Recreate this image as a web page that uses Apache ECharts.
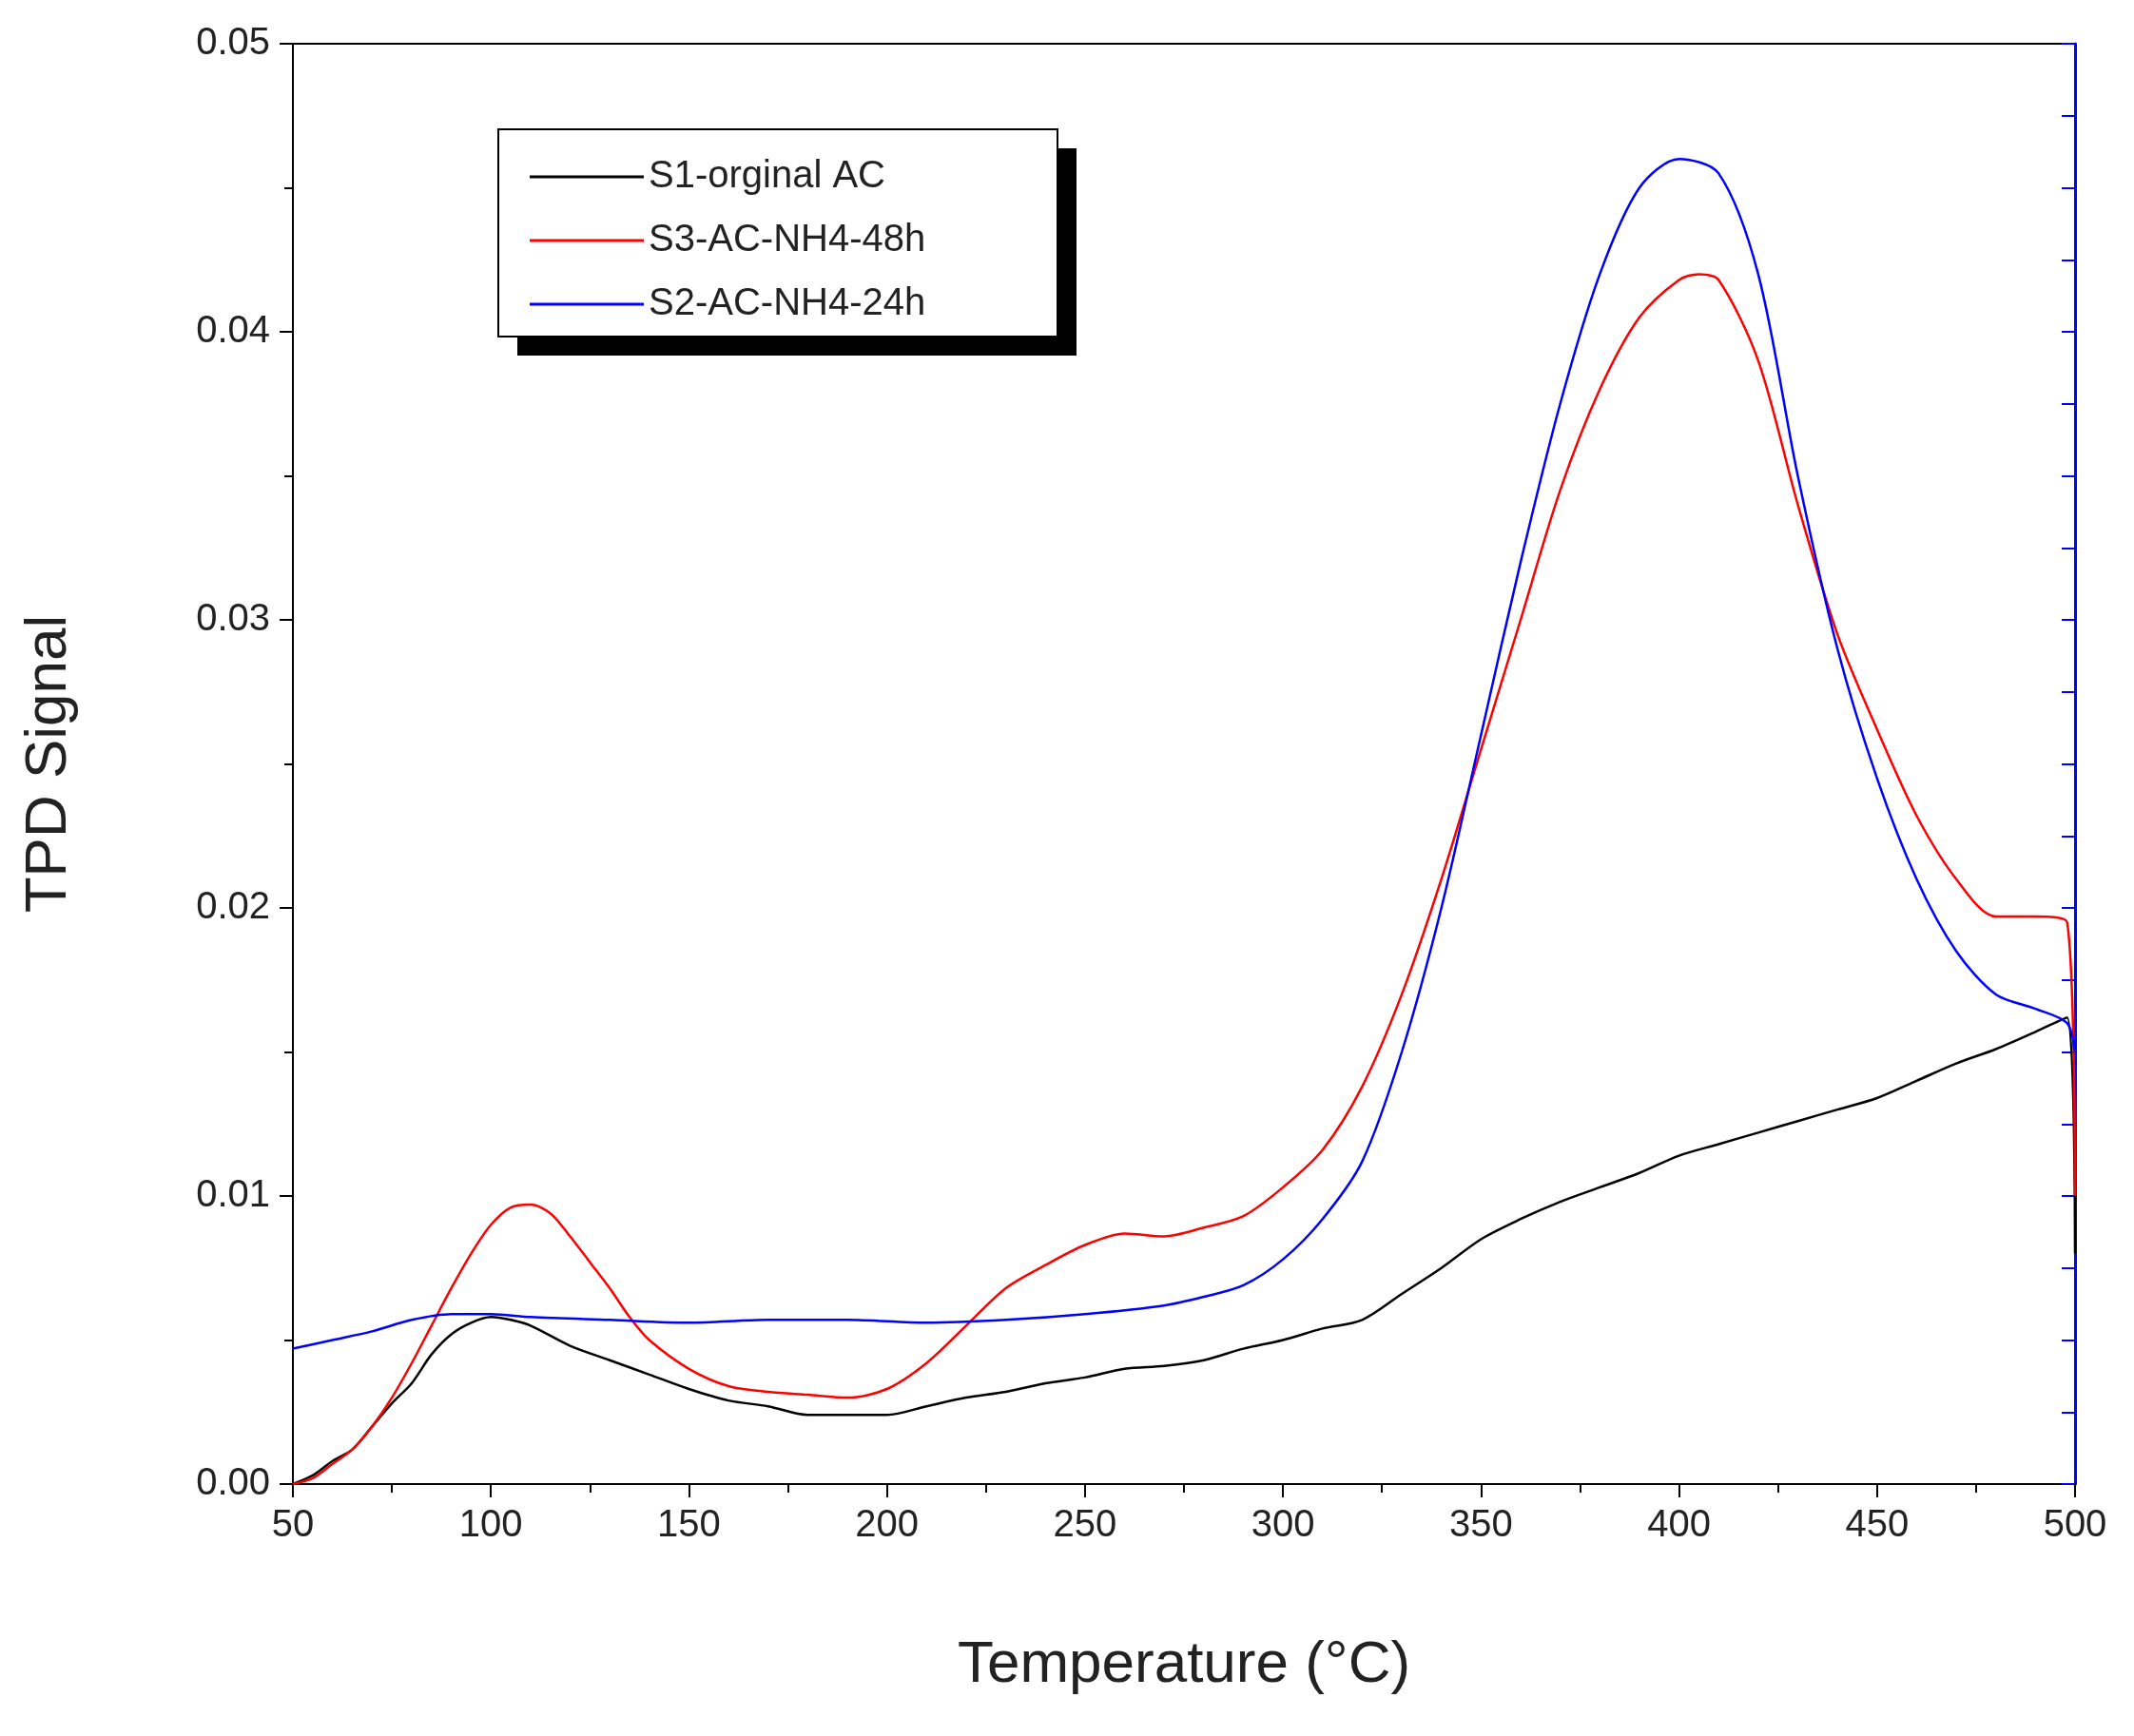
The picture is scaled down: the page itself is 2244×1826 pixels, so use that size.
<!DOCTYPE html>
<html><head><meta charset="utf-8">
<script src="https://cdn.jsdelivr.net/npm/echarts@6/dist/echarts.min.js"></script>
<style>html,body{margin:0;background:#fff}#c{width:2244px;height:1826px}</style>
</head><body><div id="c"></div>
<script>
const xS1=[50,55,60,65,70,75,80,85,90,95,100,105,110,120,130,140,150,160,170,180,190,200,210,220,230,240,250,260,270,280,290,300,310,320,330,340,350,360,370,380,390,400,410,420,430,440,450,460,470,480,490,498,500];
const yS1=[0,0.0003,0.0008,0.0012,0.002,0.0028,0.0035,0.0045,0.0052,0.0056,0.0058,0.0057,0.0055,0.0048,0.0043,0.0038,0.0033,0.0029,0.0027,0.0024,0.0024,0.0024,0.0027,0.003,0.0032,0.0035,0.0037,0.004,0.0041,0.0043,0.0047,0.005,0.0054,0.0057,0.0066,0.0075,0.0085,0.0092,0.0098,0.0103,0.0108,0.0114,0.0118,0.0122,0.0126,0.013,0.0134,0.014,0.0146,0.0151,0.0157,0.0162,0.008];
const xS3=[50,55,60,65,70,75,80,85,90,95,100,105,110,115,120,125,130,135,140,150,160,170,180,190,200,210,220,230,240,250,260,270,280,290,300,310,320,330,340,350,360,370,380,390,400,405,410,420,430,440,450,460,470,480,490,498,500];
const yS3=[0,0.0002,0.0007,0.0012,0.002,0.003,0.0042,0.0055,0.0068,0.008,0.009,0.0096,0.0097,0.0094,0.0086,0.0077,0.0068,0.0058,0.005,0.004,0.0034,0.0032,0.0031,0.003,0.0033,0.0042,0.0055,0.0068,0.0076,0.0083,0.0087,0.0086,0.0089,0.0093,0.0103,0.0116,0.0138,0.017,0.021,0.0255,0.03,0.0345,0.038,0.0405,0.0418,0.042,0.0418,0.039,0.034,0.0295,0.0262,0.0232,0.021,0.0197,0.0197,0.0195,0.01];
const xS2=[50,60,70,80,90,100,110,130,150,170,190,210,230,250,270,280,290,300,310,320,330,340,350,360,370,380,390,400,410,420,430,440,450,460,470,480,490,498,500];
const yS2=[0.0047,0.005,0.0053,0.0057,0.0059,0.0059,0.0058,0.0057,0.0056,0.0057,0.0057,0.0056,0.0057,0.0059,0.0062,0.0065,0.0069,0.0078,0.0092,0.0112,0.015,0.02,0.026,0.032,0.0375,0.042,0.045,0.046,0.0455,0.042,0.035,0.029,0.0245,0.021,0.0185,0.017,0.0165,0.016,0.015];
const zip=(a,b)=>a.map((v,i)=>[v,b[i]]);
const F='Liberation Sans, Arial, sans-serif';
const lab={fontSize:40,fontFamily:F,color:'#222',margin:24};
const ch=echarts.init(document.getElementById('c'));
ch.setOption({
  animation:false,
  grid:{left:308,right:62,top:46,bottom:265,show:true,borderColor:'#000',borderWidth:2},
  xAxis:{type:'value',min:50,max:500,interval:50,
    name:'Temperature (°C)',nameLocation:'middle',nameGap:160,
    nameTextStyle:{fontSize:62,fontFamily:F,color:'#222'},
    axisLine:{lineStyle:{color:'#000',width:2}},
    axisTick:{length:14,lineStyle:{color:'#000',width:2}},
    minorTick:{show:true,splitNumber:2,length:9,lineStyle:{color:'#000',width:2}},
    axisLabel:lab,splitLine:{show:false}},
  yAxis:[{type:'value',min:0,max:0.05,interval:0.01,
    name:'TPD Signal',nameLocation:'middle',nameGap:225,
    nameTextStyle:{fontSize:62,fontFamily:F,color:'#222'},
    axisLine:{show:true,lineStyle:{color:'#000',width:2}},
    axisTick:{length:14,lineStyle:{color:'#000',width:2}},
    minorTick:{show:true,splitNumber:2,length:9,lineStyle:{color:'#000',width:2}},
    axisLabel:Object.assign({formatter:v=>v.toFixed(2)},lab),
    splitLine:{show:false}},
   {type:'value',min:0,max:0.05,interval:0.0025,position:'right',
    axisLine:{show:true,lineStyle:{color:'#0000ff',width:3}},
    axisTick:{show:true,inside:true,length:14,lineStyle:{color:'#0000ff',width:2}},
    axisLabel:{show:false},splitLine:{show:false}}],
  legend:{orient:'vertical',left:552,top:156,itemWidth:120,itemHeight:3,itemGap:17,icon:'rect',
    textStyle:{fontSize:40,fontFamily:F,color:'#222',lineHeight:50},
    data:['S1-orginal AC','S3-AC-NH4-48h','S2-AC-NH4-24h']},
  graphic:[
    {type:'rect',shape:{x:544,y:156,width:588,height:218},style:{fill:'#000'},z:-1},
    {type:'rect',shape:{x:524,y:136,width:588,height:218},style:{fill:'#fff',stroke:'#000',lineWidth:2},z:0}
  ],
  series:[
    {name:'S1-orginal AC',type:'line',smooth:0.3,showSymbol:false,data:zip(xS1,yS1),lineStyle:{color:'#000',width:2.5},itemStyle:{color:'#000'},z:5},
    {name:'S3-AC-NH4-48h',type:'line',smooth:0.3,showSymbol:false,data:zip(xS3,yS3),lineStyle:{color:'#ff0000',width:2.5},itemStyle:{color:'#ff0000'},z:5},
    {name:'S2-AC-NH4-24h',type:'line',smooth:0.3,showSymbol:false,data:zip(xS2,yS2),lineStyle:{color:'#0000ff',width:2.5},itemStyle:{color:'#0000ff'},z:5}
  ]
});
</script></body></html>
